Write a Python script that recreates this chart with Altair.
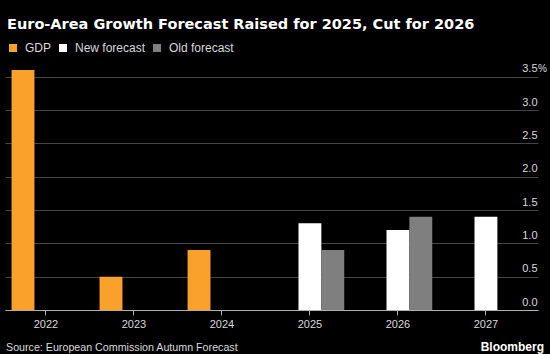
import altair as alt
import pandas as pd

# ---- data ----
years = ["2022", "2023", "2024", "2025", "2026", "2027"]
series_names = ["GDP", "New forecast", "Old forecast"]
series_colors = ["#f9a12b", "#ffffff", "#7f7f7f"]

gdp_years = ["2022", "2023", "2024"]
gdp_values = [3.6, 0.5, 0.9]
new_years = ["2025", "2026", "2027"]
new_values = [1.3, 1.2, 1.4]
old_years = ["2025", "2026"]
old_values = [0.9, 1.4]

y_ticks = [0, 0.5, 1, 1.5, 2, 2.5, 3, 3.5]

title_text = "Euro-Area Growth Forecast Raised for 2025, Cut for 2026"
source_text = "Source: European Commission Autumn Forecast"
brand_text = "Bloomberg"

rows = []
for y, v in zip(gdp_years, gdp_values):
    rows.append({"year": y, "series": "GDP", "value": v})
for y, v in zip(new_years, new_values):
    rows.append({"year": y, "series": "New forecast", "value": v})
for y, v in zip(old_years, old_values):
    rows.append({"year": y, "series": "Old forecast", "value": v})
df = pd.DataFrame(rows)

FONT = "Liberation Sans, Arial, sans-serif"
LABEL = "#d9d9d9"

y_scale = alt.Scale(domain=[0, 3.75], nice=False)
y_axis = alt.Axis(
    orient="right", title=None, values=y_ticks, format=".1f",
    grid=True, gridColor="#454545", gridWidth=1,
    ticks=False, tickSize=0, domain=False, labelOverlap=False,
    labelAlign="right", labelBaseline="bottom", labelPadding=-1,
    labelOffset=-3, labelFont=FONT, labelFontSize=11, labelColor=LABEL,
)

bars = alt.Chart(df).mark_bar().encode(
    x=alt.X(
        "year:N",
        scale=alt.Scale(domain=years, paddingInner=0.22, paddingOuter=0.138, align=0.27),
        axis=alt.Axis(
            title=None, labelAngle=0, labelFont=FONT, labelFontSize=11,
            labelColor=LABEL, domainColor="#b0b0b0", tickColor="#b0b0b0",
            tickSize=5, labelPadding=3, grid=False,
        ),
    ),
    xOffset=alt.XOffset(
        "series:N", scale=alt.Scale(domain=series_names, paddingInner=0, paddingOuter=0)
    ),
    y=alt.Y("value:Q", scale=y_scale, axis=y_axis),
    color=alt.Color(
        "series:N",
        scale=alt.Scale(domain=series_names, range=series_colors),
        legend=alt.Legend(
            orient="none", legendX=2, legendY=-18, direction="horizontal",
            title=None, symbolType="square", symbolSize=64, symbolStrokeWidth=0,
            labelFont=FONT, labelFontSize=12, labelColor=LABEL,
            labelOffset=6, columnPadding=5,
        ),
    ),
)

pct = alt.Chart(pd.DataFrame({"value": [3.5], "t": ["%"]})).mark_text(
    align="left", baseline="bottom", dy=-3, font=FONT, fontSize=10, color=LABEL
).encode(y=alt.Y("value:Q", scale=y_scale, axis=y_axis), x=alt.value(533), text="t:N")

title = alt.Chart(pd.DataFrame({"t": [title_text]})).mark_text(
    align="left", baseline="alphabetic", font="DejaVu Sans, sans-serif",
    fontSize=14.5, fontWeight="bold", color="#ffffff"
).encode(x=alt.value(2), y=alt.value(-31), text="t:N")

source = alt.Chart(pd.DataFrame({"t": [source_text]})).mark_text(
    align="left", baseline="alphabetic", font=FONT, fontSize=10.7, color=LABEL
).encode(x=alt.value(1), y=alt.value(291), text="t:N")

brand = alt.Chart(pd.DataFrame({"t": [brand_text]})).mark_text(
    align="right", baseline="alphabetic", font="Liberation Sans, Arial, sans-serif",
    fontSize=12, fontWeight="bold", color="#ffffff"
).encode(x=alt.value(539), y=alt.value(291), text="t:N")

chart = alt.layer(bars, pct, title, source, brand).properties(
    width=533, height=250,
    autosize=alt.AutoSizeParams(type="none"),
    padding={"left": 5, "top": 60, "right": 12, "bottom": 44},
    background="#000000",
).configure_view(stroke=None)

chart.save("out.html", embed_options={"renderer": "svg", "actions": False})
